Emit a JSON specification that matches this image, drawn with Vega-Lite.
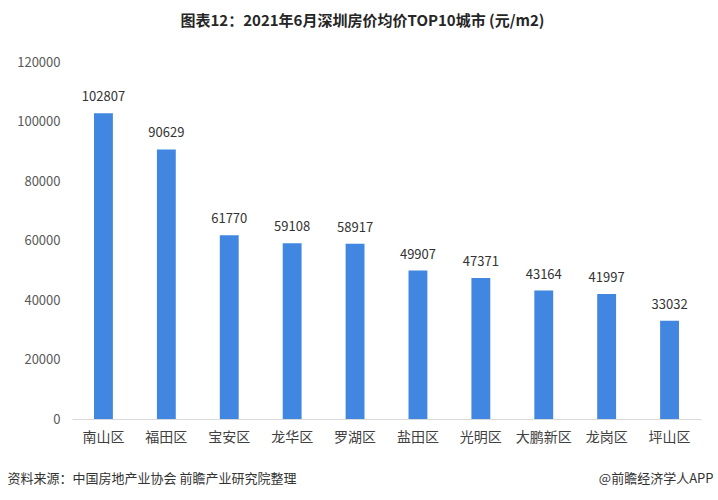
{
  "$schema": "https://vega.github.io/schema/vega-lite/v6.json",
  "width": 629,
  "height": 357,
  "autosize": {"type": "none"},
  "padding": {"left": 72, "top": 62, "right": 17, "bottom": 81},
  "background": "white",
  "config": {
    "font": "Noto Sans CJK SC",
    "view": {"stroke": null}
  },
  "title": {
    "text": "图表12：2021年6月深圳房价均价TOP10城市 (元/m2)",
    "fontSize": 15,
    "fontWeight": "bold",
    "color": "#262626",
    "anchor": "middle",
    "dx": -24,
    "offset": 12,
    "baseline": "bottom"
  },
  "data": {
    "values": [
      {"district": "南山区", "price": 102807},
      {"district": "福田区", "price": 90629},
      {"district": "宝安区", "price": 61770},
      {"district": "龙华区", "price": 59108},
      {"district": "罗湖区", "price": 58917},
      {"district": "盐田区", "price": 49907},
      {"district": "光明区", "price": 47371},
      {"district": "大鹏新区", "price": 43164},
      {"district": "龙岗区", "price": 41997},
      {"district": "坪山区", "price": 33032}
    ]
  },
  "resolve": {"axis": {"x": "independent"}},
  "layer": [
    {
      "mark": {"type": "bar", "color": "#4186E0"},
      "encoding": {
        "x": {
          "field": "district", "type": "nominal", "sort": null,
          "scale": {"paddingInner": 0.7, "paddingOuter": 0.35},
          "axis": {
            "orient": "bottom",
            "title": "资料来源：中国房地产业协会 前瞻产业研究院整理",
            "titleFontSize": 13, "titleFontWeight": "normal", "titleColor": "#333333",
            "titleAnchor": "start", "titleAlign": "left", "titleX": -65, "titleY": 59, "titleBaseline": "middle",
            "labelAngle": 0, "labelFontSize": 14, "labelColor": "#404040", "labelPadding": 11,
            "ticks": false, "domainColor": "#d9d9d9", "domainWidth": 1
          }
        },
        "y": {
          "field": "price", "type": "quantitative",
          "scale": {"domain": [0, 120000]},
          "axis": {
            "title": null, "values": [0, 20000, 40000, 60000, 80000, 100000, 120000], "format": "d",
            "labelFontSize": 13, "labelColor": "#595959", "labelPadding": 12,
            "ticks": false, "domain": false, "grid": false
          }
        }
      }
    },
    {
      "mark": {"type": "text", "baseline": "bottom", "dy": -9, "fontSize": 13, "color": "#333333"},
      "encoding": {
        "x": {
          "field": "district", "type": "nominal", "sort": null,
          "axis": {
            "orient": "bottom",
            "title": "@前瞻经济学人APP",
            "titleFontSize": 13, "titleFontWeight": "normal", "titleColor": "#333333",
            "titleAnchor": "end", "titleAlign": "right", "titleX": 641, "titleY": 59, "titleBaseline": "middle",
            "labels": false, "ticks": false, "domain": false
          }
        },
        "y": {"field": "price", "type": "quantitative"},
        "text": {"field": "price", "type": "quantitative", "format": "d"}
      }
    }
  ]
}
